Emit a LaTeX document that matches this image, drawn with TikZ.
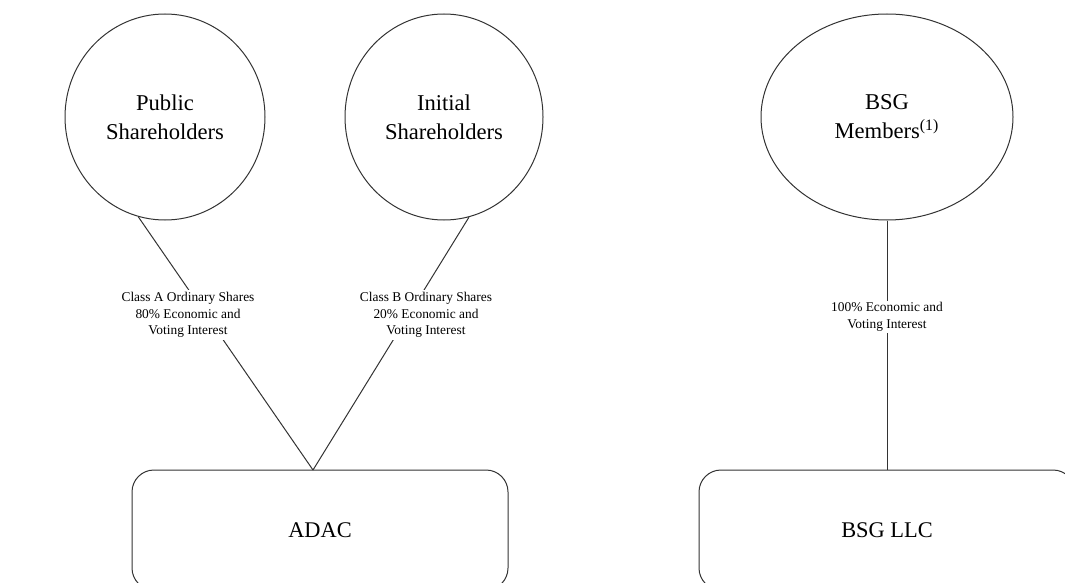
\documentclass[tikz,border=0pt]{standalone}
\usepackage{fontspec}
\setmainfont{Liberation Serif}
\usetikzlibrary{shapes.geometric}

\begin{document}
\begin{tikzpicture}[x=0.5pt,y=-0.5pt,
	owner/.style={draw=black!80,line width=0.5pt,ellipse,inner sep=0pt,
		minimum height=103pt,align=center,font=\fontsize{11.3}{14.5}\selectfont},
	entity/.style={draw=black!80,line width=0.5pt,rounded corners=11pt,inner sep=0pt,
		minimum width=188pt,minimum height=60pt,font=\fontsize{11.2}{13}\selectfont},
	stake/.style={fill=white,inner sep=1pt,align=center,font=\fontsize{6.7}{8.3}\selectfont},
	link/.style={draw=black!80,line width=0.5pt}]
		\clip (0,0) rectangle (1065,583);
		%%  Owners  %%%%%%%%
		\node[owner,minimum width=100pt] (pub) at (165,117) {Public\\Shareholders};
		\node[owner,minimum width=99pt] (ini) at (444,117) {Initial\\Shareholders};
		\node[owner,minimum width=126pt] (bsgm) at (887,117) {BSG\\Members\textsuperscript{(1)}};
		%%  Entities  %%%%%%%%
		\node[entity] (adac) at (320,530) {ADAC};
		\node[entity] (bsgllc) at (887,530) {BSG LLC};
		\coordinate (join) at (313,470);
		%%  Links  %%%%%%%%
		\draw[link] (pub.255) -- (join);
		\draw[link] (ini.284) -- (join);
		\draw[link] (bsgm.south) -- (bsgm.south |- bsgllc.north);
		%%  Stakes  %%%%%%%%
		\node[stake] (clsa) at (188,315) {Class A Ordinary Shares\\80\% Economic and\\Voting Interest};
		\node[stake] (clsb) at (426,315) {Class B Ordinary Shares\\20\% Economic and\\Voting Interest};
		\node[stake] (full) at (887,317) {100\% Economic and\\Voting Interest};
		%%%%%%%%%%%%%%%
\end{tikzpicture}
\end{document}
